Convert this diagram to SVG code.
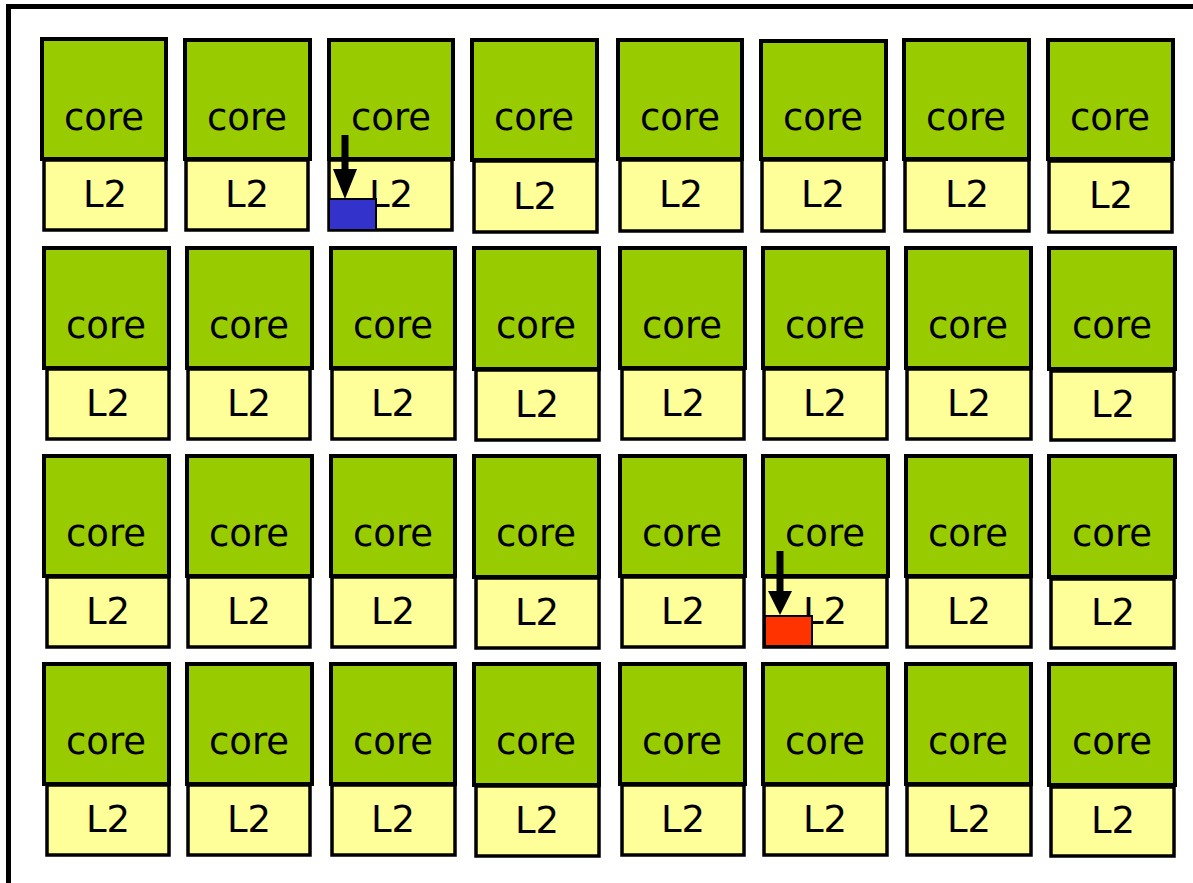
<svg xmlns="http://www.w3.org/2000/svg" width="1193" height="883" viewBox="0 0 1193 883">
<style>
.core{fill:#99CC00;stroke:#000;stroke-width:4}
.l2{fill:#FFFF99;stroke:#000;stroke-width:3.5}
.t{font-family:"DejaVu Sans",Verdana,sans-serif;font-size:37px;fill:#000;text-anchor:middle}
.arr{stroke:#000;stroke-width:7;fill:none}
</style>
<rect width="1193" height="883" fill="#fff"/>
<path d="M8.5,883 V6.5 H1193" fill="none" stroke="#000" stroke-width="5"/>
<g id="cells">
<g id="r1c1"><rect class="l2" x="44" y="160" width="122" height="70"/><rect class="core" x="42" y="39" width="124" height="120"/><text class="t" x="104" y="130">core</text><text class="t" x="105" y="207">L2</text></g>
<g id="r1c2"><rect class="l2" x="186" y="160" width="122" height="70"/><rect class="core" x="185" y="40" width="125" height="119"/><text class="t" x="247" y="130">core</text><text class="t" x="247" y="207">L2</text></g>
<g id="r1c3"><rect class="l2" x="329" y="160" width="123" height="70"/><rect class="core" x="329" y="40" width="124" height="119"/><text class="t" x="391" y="130">core</text><text class="t" x="391" y="207">L2</text></g>
<g id="r1c4"><rect class="l2" x="474" y="161" width="123" height="71"/><rect class="core" x="472" y="40" width="125" height="120"/><text class="t" x="534" y="130">core</text><text class="t" x="535" y="209">L2</text></g>
<g id="r1c5"><rect class="l2" x="620" y="160" width="122" height="71"/><rect class="core" x="618" y="40" width="124" height="119"/><text class="t" x="680" y="130">core</text><text class="t" x="681" y="207">L2</text></g>
<g id="r1c6"><rect class="l2" x="762" y="160" width="122" height="71"/><rect class="core" x="761" y="41" width="125" height="118"/><text class="t" x="823" y="130">core</text><text class="t" x="823" y="207">L2</text></g>
<g id="r1c7"><rect class="l2" x="905" y="160" width="124" height="71"/><rect class="core" x="904" y="40" width="125" height="119"/><text class="t" x="966" y="130">core</text><text class="t" x="967" y="207">L2</text></g>
<g id="r1c8"><rect class="l2" x="1049" y="161" width="123" height="71"/><rect class="core" x="1048" y="40" width="125" height="119"/><text class="t" x="1110" y="130">core</text><text class="t" x="1111" y="208">L2</text></g>

<g id="r2c1"><rect class="l2" x="47" y="369" width="122" height="70"/><rect class="core" x="44" y="248" width="125" height="120"/><text class="t" x="106" y="338">core</text><text class="t" x="108" y="416">L2</text></g>
<g id="r2c2"><rect class="l2" x="188" y="369" width="122" height="70"/><rect class="core" x="187" y="248" width="125" height="120"/><text class="t" x="249" y="338">core</text><text class="t" x="249" y="416">L2</text></g>
<g id="r2c3"><rect class="l2" x="332" y="369" width="123" height="70"/><rect class="core" x="331" y="248" width="124" height="120"/><text class="t" x="393" y="338">core</text><text class="t" x="393" y="416">L2</text></g>
<g id="r2c4"><rect class="l2" x="476" y="370" width="123" height="70"/><rect class="core" x="474" y="248" width="125" height="121"/><text class="t" x="536" y="338">core</text><text class="t" x="537" y="417">L2</text></g>
<g id="r2c5"><rect class="l2" x="622" y="369" width="122" height="70"/><rect class="core" x="620" y="248" width="125" height="120"/><text class="t" x="682" y="338">core</text><text class="t" x="683" y="416">L2</text></g>
<g id="r2c6"><rect class="l2" x="764" y="369" width="123" height="70"/><rect class="core" x="763" y="248" width="125" height="120"/><text class="t" x="825" y="338">core</text><text class="t" x="825" y="416">L2</text></g>
<g id="r2c7"><rect class="l2" x="907" y="369" width="124" height="70"/><rect class="core" x="906" y="248" width="125" height="120"/><text class="t" x="968" y="338">core</text><text class="t" x="969" y="416">L2</text></g>
<g id="r2c8"><rect class="l2" x="1051" y="371" width="123" height="69"/><rect class="core" x="1049" y="248" width="126" height="121"/><text class="t" x="1112" y="338">core</text><text class="t" x="1113" y="417">L2</text></g>

<g id="r3c1"><rect class="l2" x="47" y="577" width="122" height="70"/><rect class="core" x="44" y="456" width="125" height="120"/><text class="t" x="106" y="546">core</text><text class="t" x="108" y="624">L2</text></g>
<g id="r3c2"><rect class="l2" x="188" y="577" width="122" height="70"/><rect class="core" x="187" y="456" width="125" height="120"/><text class="t" x="249" y="546">core</text><text class="t" x="249" y="624">L2</text></g>
<g id="r3c3"><rect class="l2" x="332" y="577" width="123" height="70"/><rect class="core" x="331" y="456" width="124" height="120"/><text class="t" x="393" y="546">core</text><text class="t" x="393" y="624">L2</text></g>
<g id="r3c4"><rect class="l2" x="476" y="578" width="123" height="70"/><rect class="core" x="474" y="456" width="125" height="121"/><text class="t" x="536" y="546">core</text><text class="t" x="537" y="625">L2</text></g>
<g id="r3c5"><rect class="l2" x="622" y="577" width="122" height="70"/><rect class="core" x="620" y="456" width="125" height="120"/><text class="t" x="682" y="546">core</text><text class="t" x="683" y="624">L2</text></g>
<g id="r3c6"><rect class="l2" x="764" y="577" width="123" height="70"/><rect class="core" x="763" y="456" width="125" height="120"/><text class="t" x="825" y="546">core</text><text class="t" x="825" y="624">L2</text></g>
<g id="r3c7"><rect class="l2" x="907" y="577" width="124" height="70"/><rect class="core" x="906" y="456" width="125" height="120"/><text class="t" x="968" y="546">core</text><text class="t" x="969" y="624">L2</text></g>
<g id="r3c8"><rect class="l2" x="1051" y="579" width="123" height="69"/><rect class="core" x="1049" y="456" width="126" height="121"/><text class="t" x="1112" y="546">core</text><text class="t" x="1113" y="625">L2</text></g>

<g id="r4c1"><rect class="l2" x="47" y="785" width="122" height="70"/><rect class="core" x="44" y="664" width="125" height="120"/><text class="t" x="106" y="754">core</text><text class="t" x="108" y="832">L2</text></g>
<g id="r4c2"><rect class="l2" x="188" y="785" width="122" height="70"/><rect class="core" x="187" y="664" width="125" height="120"/><text class="t" x="249" y="754">core</text><text class="t" x="249" y="832">L2</text></g>
<g id="r4c3"><rect class="l2" x="332" y="785" width="123" height="70"/><rect class="core" x="331" y="664" width="124" height="120"/><text class="t" x="393" y="754">core</text><text class="t" x="393" y="832">L2</text></g>
<g id="r4c4"><rect class="l2" x="476" y="786" width="123" height="70"/><rect class="core" x="474" y="664" width="125" height="121"/><text class="t" x="536" y="754">core</text><text class="t" x="537" y="833">L2</text></g>
<g id="r4c5"><rect class="l2" x="622" y="785" width="122" height="70"/><rect class="core" x="620" y="664" width="125" height="120"/><text class="t" x="682" y="754">core</text><text class="t" x="683" y="832">L2</text></g>
<g id="r4c6"><rect class="l2" x="764" y="785" width="123" height="70"/><rect class="core" x="763" y="664" width="125" height="120"/><text class="t" x="825" y="754">core</text><text class="t" x="825" y="832">L2</text></g>
<g id="r4c7"><rect class="l2" x="907" y="785" width="124" height="70"/><rect class="core" x="906" y="664" width="125" height="120"/><text class="t" x="968" y="754">core</text><text class="t" x="969" y="832">L2</text></g>
<g id="r4c8"><rect class="l2" x="1051" y="787" width="123" height="69"/><rect class="core" x="1049" y="664" width="126" height="121"/><text class="t" x="1112" y="754">core</text><text class="t" x="1113" y="833">L2</text></g>
</g>
<g id="blue-block"><rect x="329" y="199" width="47" height="31" fill="#3333CC" stroke="#000" stroke-width="2"/></g>
<g id="red-block"><rect x="765" y="616" width="47" height="30" fill="#FF3300" stroke="#000" stroke-width="2"/></g>
<g id="connectors">
<path class="arr" d="M345,135 V171"/><polygon points="333,169 357,169 345,199"/>
<path class="arr" d="M780,551 V593"/><polygon points="768,591 792,591 780,615"/>
</g>
</svg>
